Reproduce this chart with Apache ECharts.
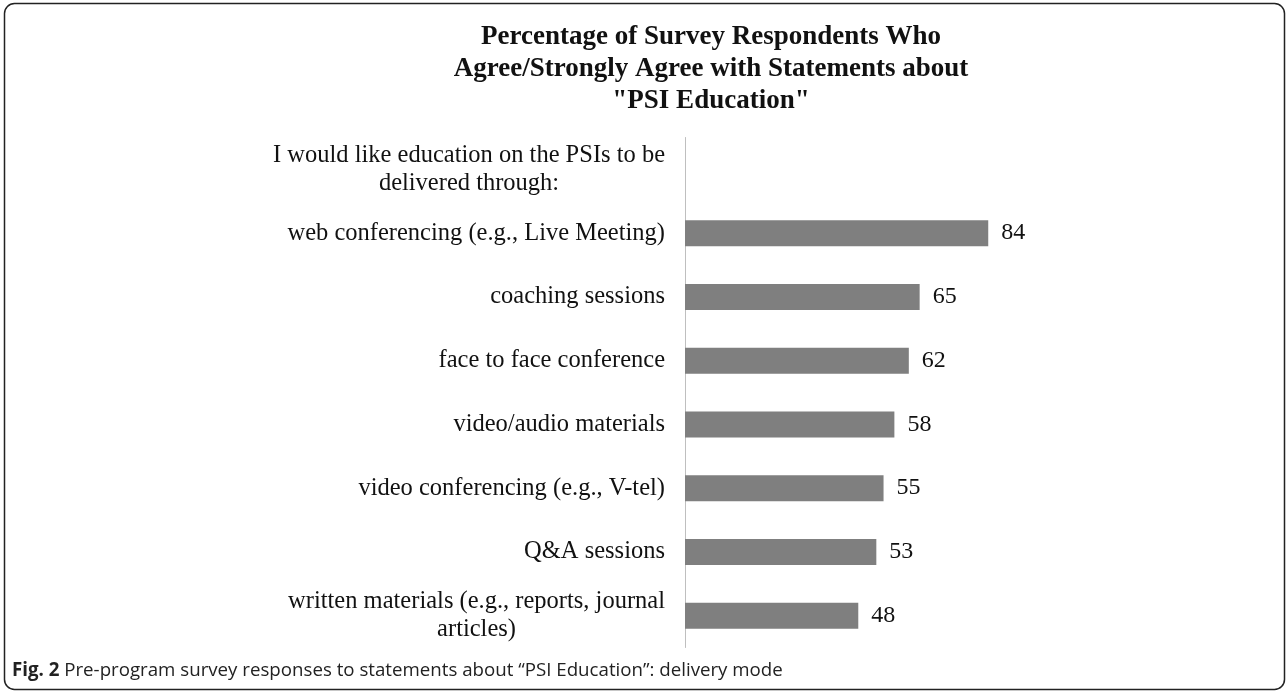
<!DOCTYPE html>
<html><head><meta charset="utf-8">
<script src="https://cdn.jsdelivr.net/npm/echarts@6/dist/echarts.min.js"></script>
<style>html,body{margin:0;padding:0;background:#fff}#c{width:1288px;height:692px}</style>
</head><body><div id="c"></div>
<script>
const titleText = 'Percentage of Survey Respondents Who\nAgree/Strongly Agree with Statements about\n"PSI Education"';
const categories = [
  'I would like education on the PSIs to be\ndelivered through:',
  'web conferencing (e.g., Live Meeting)',
  'coaching sessions',
  'face to face conference',
  'video/audio materials',
  'video conferencing (e.g., V-tel)',
  'Q&A sessions',
  'written materials (e.g., reports, journal\narticles)'
];
const values = [null, 84, 65, 62, 58, 55, 53, 48];
const captionBold = 'Fig. 2';
const captionText = 'Pre-program survey responses to statements about \u201cPSI Education\u201d: delivery mode';

const serif = '"Liberation Serif", "Times New Roman", Times, serif';
const chart = echarts.init(document.getElementById('c'), null, {renderer: 'canvas'});
chart.setOption({
  animation: false,
  backgroundColor: '#fff',
  title: {
    text: titleText,
    left: 706, top: 16, textAlign: 'center',
    textStyle: {fontFamily: serif, fontWeight: 'bold', fontSize: 27, lineHeight: 32, color: '#111'}
  },
  grid: {left: 685, top: 137.5, width: 361, height: 510, containLabel: false},
  xAxis: {type: 'value', min: 0, max: 100, show: false, splitLine: {show: false}},
  yAxis: {
    type: 'category', data: categories, inverse: true,
    axisLine: {show: true, lineStyle: {color: '#bfbfbf', width: 1}},
    axisTick: {show: false},
    axisLabel: {
      margin: 20, align: 'right',
      formatter: v => v.split('\n').map(l => '{c|' + l + '}').join('\n'),
      rich: {c: {align: 'center', fontFamily: serif, fontSize: 24.5, lineHeight: 28.5, color: '#111'}}
    }
  },
  series: [{
    type: 'bar', data: values, barWidth: 26,
    itemStyle: {color: '#7f7f7f'},
    label: {show: true, position: 'right', distance: 13, fontFamily: serif, fontSize: 24, color: '#111',
      formatter: p => (p.value == null ? '' : p.value)}
  }],
  graphic: [
    {type: 'rect', shape: {x: 4.5, y: 3.5, width: 1280, height: 686, r: 10}, style: {fill: 'none', stroke: '#222', lineWidth: 1.5}, z: 10},
    {type: 'text', style: {
      x: 12, y: 671, verticalAlign: 'middle',
      text: '{b|' + captionBold + '} ' + captionText,
      rich: {b: {fontFamily: 'Open Sans', fontWeight: 'bold', fontSize: 18.7, fill: '#222'}},
      fontFamily: 'Open Sans', fontSize: 18.7, fill: '#222'}}
  ]
});
</script></body></html>
